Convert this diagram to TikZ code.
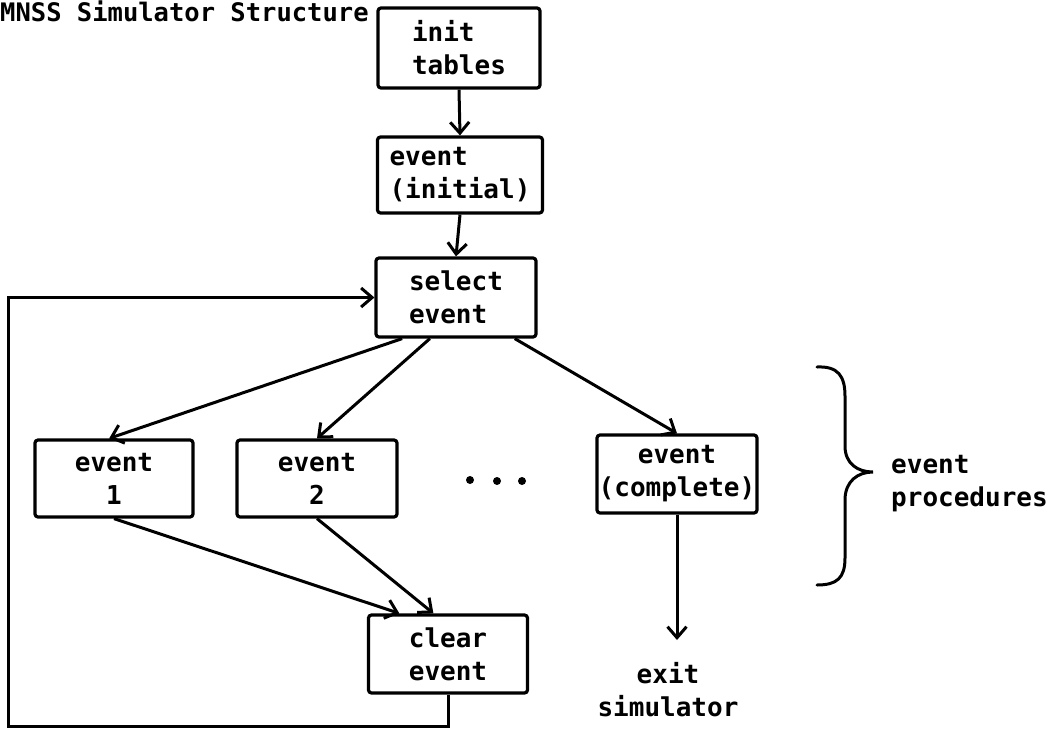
\documentclass[tikz,border=0pt]{standalone}
\usepackage{fontspec}
\newfontfamily\typewr{DejaVu Sans Mono}
\usetikzlibrary{arrows.meta,calc}
\begin{document}
\begin{tikzpicture}[x=1pt,y=-1pt,
  txt/.style={font=\typewr\bfseries\fontsize{26}{33}\selectfont, inner sep=0pt},
  procbox/.style={txt, draw, line width=3.2pt, rounded corners=3pt},
  arr/.style={line width=3pt, -{Straight Barb[length=11pt,width=19pt]}},
  ln/.style={line width=3pt}]
\useasboundingbox (0,0) rectangle (1061,729);
% title
\node[txt, anchor=base west, font=\typewr\bfseries\fontsize{25.5}{30}\selectfont] (title) at (0,21) {MNSS Simulator Structure};
% boxes
\node[procbox, minimum width=162pt, minimum height=80pt, align=left] (init) at (459,48) {init\\tables};
\node[procbox, minimum width=165pt, minimum height=76pt, align=left] (initial) at (460,175) {event\\(initial)};
\node[procbox, minimum width=160pt, minimum height=79pt, align=left] (select) at (456,297.5) {select\\event};
\node[procbox, minimum width=158pt, minimum height=77pt, align=center] (e1) at (114,478.5) {event\\1};
\node[procbox, minimum width=160pt, minimum height=77pt, align=center] (e2) at (317,478.5) {event\\2};
\node[procbox, minimum width=160pt, minimum height=78pt, align=center] (ec) at (677,474) {event\\(complete)};
\node[procbox, minimum width=159pt, minimum height=78pt, align=center] (clear) at (448,654) {clear\\event};
% texts
\node[txt, align=center] (exit) at (668,690) {exit\\simulator};
\node[txt, align=left, anchor=west] (proc) at (891,484) {event\\procedures};
% dots
\fill (470,480) circle (4pt);
\fill (497,481) circle (4pt);
\fill (522,481) circle (4pt);
% connectors
\draw[arr] (init.south) -- (initial.north);
\draw[arr] (initial.south) -- (select.north);
\draw[arr] ($(select.south west)!0.17!(select.south east)$) -- ($(e1.north west)!0.47!(e1.north east)$);
\draw[arr] ($(select.south west)!0.34!(select.south east)$) -- (e2.north);
\draw[arr] ($(select.south west)!0.86!(select.south east)$) -- (ec.north);
\draw[arr] (e1.south) -- ($(clear.north west)!0.2!(clear.north east)$);
\draw[arr] (e2.south) -- ($(clear.north west)!0.41!(clear.north east)$);
\coordinate (exittip) at (677,640);
\draw[arr] (ec.south) -- (exittip);
\coordinate (loopbl) at (8,726);
\draw[arr, line join=miter] (clear.south) |- (loopbl) |- (select.west);
% brace
\draw[ln, line cap=round] (817,367) .. controls (838,366) and (845,376) .. (845,396) -- (845,446)
  .. controls (845,464) and (858,472) .. (873,472)
  .. controls (858,472) and (845,481) .. (845,500) -- (845,558)
  .. controls (845,578) and (837,585) .. (817,585);
\end{tikzpicture}
\end{document}
